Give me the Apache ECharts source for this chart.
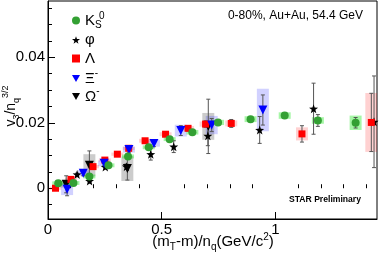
<!DOCTYPE html>
<html><head><meta charset="utf-8">
<script src="https://cdn.jsdelivr.net/npm/echarts@6/dist/echarts.min.js"></script>
<style>html,body{margin:0;padding:0;background:#fff}#c{width:382px;height:258px}</style>
</head><body><div id="c"></div>
<script>
// ---- data ----
const k0sX = [0.045,0.112,0.182,0.266,0.352,0.443,0.535,0.635,0.748,0.891,1.041,1.187,1.353];
const k0sY = [0.0015,0.0016,0.0036,0.0070,0.0097,0.0125,0.0150,0.0171,0.0201,0.0211,0.0222,0.0207,0.0200];
const k0sStat = [0.0003,0.0003,0.0003,0.0004,0.0004,0.0005,0.0005,0.0006,0.0007,0.0008,0.0009,0.0018,0.0016];
const k0sSys = [0.0006,0.0006,0.0006,0.0006,0.0006,0.0006,0.0006,0.0007,0.0008,0.0009,0.0010,0.0010,0.0022];

const lamX = [0.033,0.101,0.198,0.250,0.305,0.355,0.427,0.517,0.616,0.693,0.806,1.117,1.422];
const lamY = [0.0000,0.0027,0.0066,0.0086,0.0104,0.0122,0.0145,0.0165,0.0183,0.0196,0.0198,0.0166,0.0201];
const lamStat = [0.0003,0.0003,0.0004,0.0004,0.0005,0.0005,0.0006,0.0007,0.0008,0.0010,0.0012,0.0025,0.0089];
const lamSys = [0.0005,0.0005,0.0005,0.0005,0.0005,0.0005,0.0006,0.0006,0.0007,0.0008,0.0009,0.0020,0.0090];

const xiX = [0.084,0.155,0.247,0.356,0.466,0.584,0.720,0.945];
const xiY = [-0.0003,0.0046,0.0076,0.0118,0.0137,0.0176,0.0193,0.0239];
const xiStat = [0.0020,0.0008,0.0008,0.0008,0.0010,0.0015,0.0020,0.0046];
const xiSys = [0.0018,0.0009,0.0009,0.0009,0.0010,0.0018,0.0028,0.0065];

const phiX = [0.128,0.183,0.252,0.345,0.452,0.553,0.703,0.931,1.168,1.434];
const phiY = [0.0042,0.0022,0.0065,0.0066,0.0104,0.0127,0.0160,0.0178,0.0243,0.0203];
const phiStat = [0.0004,0.0006,0.0006,0.0008,0.0018,0.0018,0.0030,0.0041,0.0078,0.0140];

const omX = [0.080,0.182,0.349,0.705];
const omY = [0.0012,0.0070,0.0060,0.0189];
const omStat = [0.0026,0.0044,0.0035,0.0083];
const omSys = [0.0010,0.0034,0.0038,0.0041];

const yLabelValues = [0, 0.02, 0.04];
const yMinorValues = [-0.005,0.005,0.01,0.015,0.025,0.03,0.035,0.045,0.05,0.055];
const xLabelValues = [0, 0.5, 1];
const xMinorValues = [0.1,0.2,0.3,0.4,0.6,0.7,0.8,0.9,1.1,1.2,1.3,1.4];

// ---- chart ----
const FONT = 'Liberation Sans, Arial, Helvetica, sans-serif';
const STAR = 'path://M0,-10 L2.35,-3.24 L9.51,-3.09 L3.8,1.24 L5.88,8.09 L0,4 L-5.88,8.09 L-3.8,1.24 L-9.51,-3.09 L-2.35,-3.24 Z';
const DOWN = 'path://M-5,-4.3 L5,-4.3 L0,4.3 Z';
const Y_MIN = -0.0094, Y_MAX = 0.0572, X_MAX = 1.447;

function pairs(xs, ys) { return xs.map((x, i) => [x, ys[i]]); }

function boxSeries(name, xs, ys, sys, color) {
  return {
    type: 'custom', name: name + ' sys', z: 1, clip: true, silent: true,
    data: xs.map((x, i) => [x, ys[i], sys[i]]),
    encode: { x: 0, y: 1 },
    renderItem: (params, api) => {
      const x = api.value(0), y = api.value(1), e = api.value(2);
      const t = api.coord([x, y + e]), b = api.coord([x, y - e]);
      const w = 12;
      return { type: 'rect', shape: { x: t[0] - w / 2, y: t[1], width: w, height: b[1] - t[1] },
               style: { fill: color } };
    }
  };
}
function errSeries(name, xs, ys, st) {
  return {
    type: 'custom', name: name + ' stat', z: 2, clip: true, silent: true,
    data: xs.map((x, i) => [x, ys[i], st[i]]),
    encode: { x: 0, y: 1 },
    renderItem: (params, api) => {
      const x = api.value(0), y = api.value(1), e = api.value(2);
      const t = api.coord([x, y + e]), b = api.coord([x, y - e]);
      const c = 2;
      const s = { stroke: '#555', lineWidth: 1 };
      return { type: 'group', children: [
        { type: 'line', shape: { x1: t[0], y1: t[1], x2: b[0], y2: b[1] }, style: s },
        { type: 'line', shape: { x1: t[0] - c, y1: t[1], x2: t[0] + c, y2: t[1] }, style: s },
        { type: 'line', shape: { x1: b[0] - c, y1: b[1], x2: b[0] + c, y2: b[1] }, style: s }
      ] };
    }
  };
}
function markSeries(name, xs, ys, symbol, size, color) {
  return { type: 'scatter', name: name, z: 3, symbol: symbol, symbolSize: size,
           itemStyle: { color: color, opacity: 1 },
           data: pairs(xs, ys), silent: true };
}

const GREEN = '#33a033', RED = '#ff0000', BLUE = '#0000ff', BLACK = '#000000';
const NAMES = { k0s: 'K0S', phi: 'φ', lam: 'Λ', xi: 'Ξ-', om: 'Ω-' };

const rich = {
  m: { fontSize: 15, fontFamily: FONT, color: '#000', lineHeight: 20, verticalAlign: 'middle' },
  s: { fontSize: 10, fontFamily: FONT, color: '#000', lineHeight: 10, verticalAlign: 'bottom' },
  p: { fontSize: 10, fontFamily: FONT, color: '#000', lineHeight: 10, verticalAlign: 'top' }
};
const legendText = {
  'K0S': '{m|K}{s|S}', 'φ': '{m|φ}', 'Λ': '{m|Λ}', 'Ξ-': '{m|Ξ}{p|-}', 'Ω-': '{m|Ω}{p|-}'
};
function legendAt(name, yc, icon) {
  const item = icon ? { name: name, icon: icon } : name;
  return { show: true, orient: 'vertical', left: 72, top: yc - 10, padding: 0,
           itemWidth: 8, itemHeight: 8, itemGap: 0, data: [item], selectedMode: false,
           formatter: n => legendText[n], textStyle: { rich: rich, fontFamily: FONT } };
}

const option = {
  animation: false,
  grid: { left: 48, right: 5, top: 1, bottom: 39, show: true, borderColor: '#000', borderWidth: 1,
          containLabel: false },
  xAxis: [
    { type: 'value', min: 0, max: X_MAX, position: 'bottom',
      axisLine: { show: true, onZero: false, lineStyle: { color: '#000', width: 1 } },
      axisTick: { show: true, inside: true, length: 7, customValues: xLabelValues, lineStyle: { color: '#000' } },
      axisLabel: { show: true, customValues: xLabelValues, color: '#000', fontSize: 15, fontFamily: FONT, margin: 3,
                   formatter: v => String(v) },
      splitLine: { show: false } },
    { type: 'value', min: 0, max: X_MAX, position: 'bottom', offset: 0,
      axisLine: { show: false },
      axisTick: { show: true, inside: true, length: 4, customValues: xMinorValues, lineStyle: { color: '#000' } },
      axisLabel: { show: false }, splitLine: { show: false } }
  ],
  yAxis: [
    { type: 'value', min: Y_MIN, max: Y_MAX, position: 'left',
      axisLine: { show: true, onZero: false, lineStyle: { color: '#000', width: 1 } },
      axisTick: { show: true, inside: true, length: 7, customValues: yLabelValues, lineStyle: { color: '#000' } },
      axisLabel: { show: true, customValues: yLabelValues, color: '#000', fontSize: 15, fontFamily: FONT, margin: 3,
                   formatter: v => String(v) },
      splitLine: { show: false } },
    { type: 'value', min: Y_MIN, max: Y_MAX, position: 'left', offset: 0,
      axisLine: { show: false },
      axisTick: { show: true, inside: true, length: 4, customValues: yMinorValues, lineStyle: { color: '#000' } },
      axisLabel: { show: false }, splitLine: { show: false } }
  ],
  legend: [
    legendAt(NAMES.k0s, 23), legendAt(NAMES.phi, 42.5), legendAt(NAMES.lam, 61),
    legendAt(NAMES.xi, 78.5, DOWN), legendAt(NAMES.om, 96.5, DOWN)
  ],
  series: [
    boxSeries('om', omX, omY, omSys, 'rgba(0,0,0,0.2)'),
    boxSeries('lam', lamX, lamY, lamSys, 'rgba(255,0,0,0.18)'),
    boxSeries('xi', xiX, xiY, xiSys, 'rgba(0,0,255,0.18)'),
    boxSeries('k0s', k0sX, k0sY, k0sSys, 'rgba(0,230,0,0.35)'),
    errSeries('om', omX, omY, omStat),
    errSeries('phi', phiX, phiY, phiStat),
    errSeries('lam', lamX, lamY, lamStat),
    errSeries('xi', xiX, xiY, xiStat),
    errSeries('k0s', k0sX, k0sY, k0sStat),
    markSeries(NAMES.om, omX, omY, DOWN, 9, BLACK),
    markSeries(NAMES.phi, phiX, phiY, STAR, 9, BLACK),
    markSeries(NAMES.lam, lamX, lamY, 'rect', 7, RED),
    markSeries(NAMES.xi, xiX, xiY, DOWN, 9, BLUE),
    markSeries(NAMES.k0s, k0sX, k0sY, 'circle', 8, GREEN)
  ],
  graphic: [
    { type: 'text', left: 99, top: 11, silent: true,
      style: { text: '0', fontSize: 10, fontFamily: FONT, fill: '#000' } },
    { type: 'text', right: 19, top: 10, silent: true,
      style: { text: '0-80%, Au+Au, 54.4 GeV', fontSize: 12, fontFamily: FONT, fill: '#000' } },
    { type: 'text', left: 289, top: 195, silent: true,
      style: { text: 'STAR Preliminary', fontSize: 8.6, fontWeight: 'bold', fontFamily: FONT, fill: '#000' } },
    { type: 'text', x: 213, y: 242, silent: true,
      style: { text: '{m|(m}{s|T}{m|-m)/n}{s|q}{m|(GeV/c}{p|2}{m|)}', align: 'center', verticalAlign: 'middle',
               rich: rich } },
    { type: 'text', x: 11, y: 106, rotation: Math.PI / 2, silent: true,
      style: { text: '{m|v}{s|3}{m|/n}{s|q}{p|3/2}', align: 'center', verticalAlign: 'middle',
               rich: {
                 m: { fontSize: 14, fontFamily: FONT, fill: '#000', lineHeight: 20, verticalAlign: 'middle' },
                 s: { fontSize: 9, fontFamily: FONT, fill: '#000', lineHeight: 9, verticalAlign: 'bottom' },
                 p: { fontSize: 9, fontFamily: FONT, fill: '#000', lineHeight: 9, verticalAlign: 'top' }
               } } }
  ]
};
const chart = echarts.init(document.getElementById('c'), null, { renderer: 'canvas' });
chart.setOption(option);
</script></body></html>
